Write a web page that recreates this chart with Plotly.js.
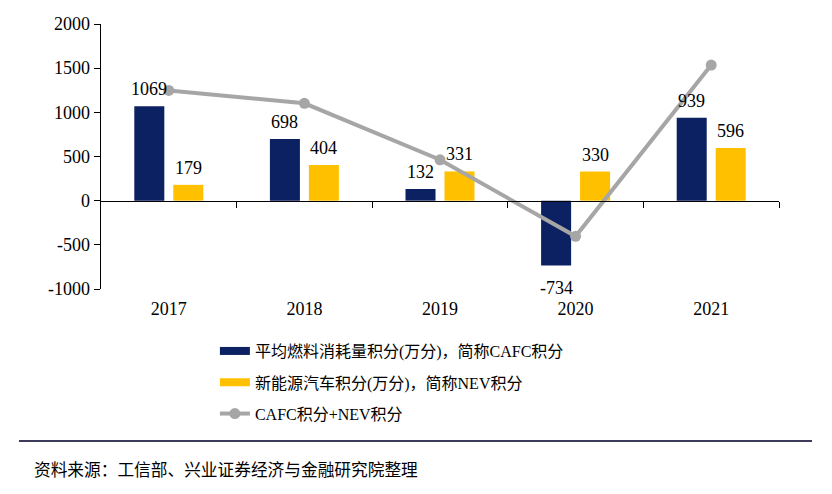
<!DOCTYPE html>
<html>
<head>
<meta charset="utf-8">
<script src="https://cdn.plot.ly/plotly-3.0.1.min.js"></script>
<style>html,body{margin:0;padding:0;background:#fff;}#chart{width:832px;height:494px;}</style>
</head>
<body>
<div id="chart"></div>
<script>
const years = ['2017', '2018', '2019', '2020', '2021'];
const cafc = [1069, 698, 132, -734, 939];
const nev = [179, 404, 331, 330, 596];
const total = [1248, 1102, 463, -404, 1535];
const nameCafc = '平均燃料消耗量积分(万分)，简称CAFC积分';
const nameNev = '新能源汽车积分(万分)，简称NEV积分';
const nameTotal = 'CAFC积分+NEV积分';
const yTicks = [-1000, -500, 0, 500, 1000, 1500, 2000];

const FONT = '"Liberation Serif", "Times New Roman", "Noto Sans CJK SC", serif';
const NAVY = '#0c2161';
const GOLD = '#ffc000';
const GRAY = '#a6a6a6';

const traces = [
  {type: 'bar', x: years, y: cafc, marker: {color: NAVY}, showlegend: false, hoverinfo: 'skip'},
  {type: 'bar', x: years, y: nev, marker: {color: GOLD}, showlegend: false, hoverinfo: 'skip'},
  {type: 'scatter', mode: 'lines+markers', x: years, y: total, line: {color: GRAY, width: 4},
   marker: {color: GRAY, size: 11}, showlegend: false, hoverinfo: 'skip', cliponaxis: false},
  // legend entries
  {type: 'scatter', mode: 'lines', x: [years[0]], y: [null], name: nameCafc, line: {color: NAVY, width: 8}, legendgroup: 'a'},
  {type: 'scatter', mode: 'lines', x: [years[0]], y: [null], name: nameNev, line: {color: GOLD, width: 8}, legendgroup: 'b'},
  {type: 'scatter', mode: 'lines+markers', x: [years[0]], y: [null], name: nameTotal, line: {color: GRAY, width: 4},
   marker: {color: GRAY, size: 11}, legendgroup: 'c'},
  // dummy for the zero-line axis
  {type: 'scatter', mode: 'markers', x: [0], y: [null], xaxis: 'x2', yaxis: 'y', showlegend: false, hoverinfo: 'skip'}
];

// value labels (outside end), offset to each bar of the group
const BAR_OFFSET = 19.5;
function labels(vals, side) {
  return vals.map((v, i) => ({
    xref: 'x2', yref: 'y', x: i, y: v, xshift: side * BAR_OFFSET,
    yshift: v >= 0 ? 17 : -22, yanchor: 'middle', xanchor: 'center', showarrow: false,
    text: String(v), font: {family: FONT, size: 18, color: '#000'}
  }));
}

const layout = {
  width: 832, height: 494,
  margin: {l: 101, r: 53, t: 24, b: 205},
  paper_bgcolor: '#fff', plot_bgcolor: '#fff',
  font: {family: FONT, size: 16, color: '#000'},
  barmode: 'group', bargap: 0.425, bargroupgap: 0.23,
  xaxis: {type: 'category', showline: false, ticks: '', showgrid: false, zeroline: false,
          tickfont: {family: FONT, size: 18, color: '#000'}, ticklabelstandoff: 7},
  xaxis2: {type: 'linear', overlaying: 'x', anchor: 'free', position: 1/3, range: [-0.5, 4.5],
           showline: true, linecolor: '#000', linewidth: 1.5, ticks: 'outside', ticklen: 6, tickcolor: '#000',
           tickvals: [0.5, 1.5, 2.5, 3.5, 4.5], showticklabels: false, showgrid: false, zeroline: false},
  yaxis: {range: [-1000, 2000], tickvals: yTicks, ticktext: yTicks.map(String), showline: true, linecolor: '#000',
          linewidth: 1.5, ticks: 'outside', ticklen: 6, tickcolor: '#000', showgrid: false, zeroline: false,
          tickfont: {family: FONT, size: 18, color: '#000'}},
  legend: {x: 0.168, y: -0.17, xanchor: 'left', yanchor: 'top', orientation: 'v', tracegroupgap: 7.5,
           font: {family: FONT, size: 16, color: '#000'}, bgcolor: 'rgba(0,0,0,0)', itemwidth: 30},
  shapes: [{type: 'line', xref: 'paper', yref: 'paper', x0: -82/678, x1: 711/678, y0: -152/265, y1: -152/265,
            line: {color: '#3c3c5a', width: 2}}],
  annotations: labels(cafc, -1).concat(labels(nev, 1)).concat([
    {xref: 'paper', yref: 'paper', x: -69/678, y: -180/265, yshift: -2, xanchor: 'left', yanchor: 'middle',
     showarrow: false, text: '资料来源：工信部、兴业证券经济与金融研究院整理',
     font: {family: FONT, size: 16.7, color: '#000'}}])
};

Plotly.newPlot('chart', traces, layout, {displayModeBar: false, staticPlot: true});
</script>
</body>
</html>
